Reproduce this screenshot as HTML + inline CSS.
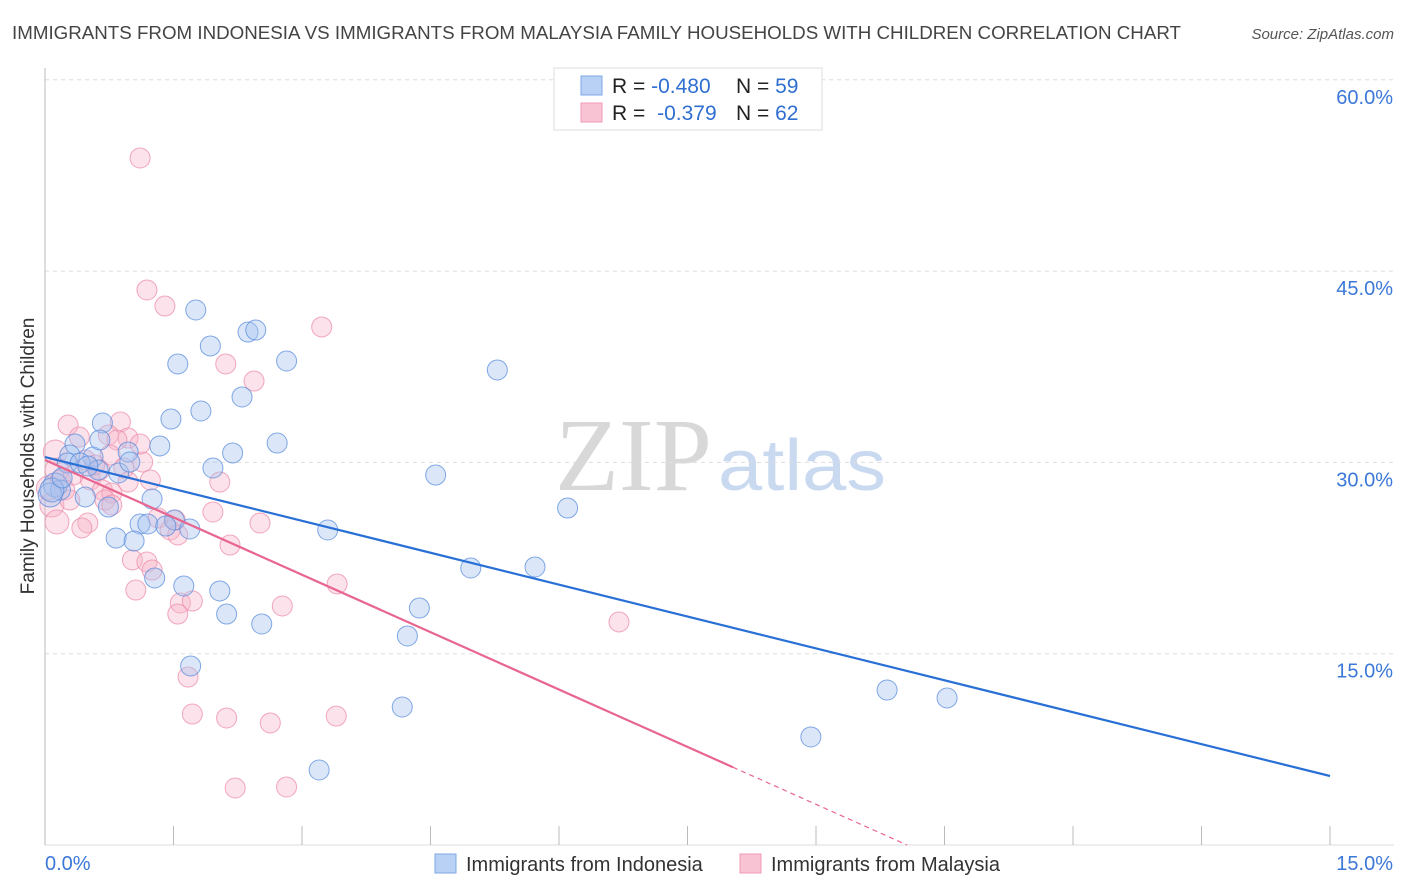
<!DOCTYPE html>
<html><head><meta charset="utf-8"><style>
body{margin:0;background:#fff;font-family:"Liberation Sans",sans-serif;}
svg{display:block}
</style></head><body>
<svg id="chart" width="1406" height="892">
<text x="12" y="39" font-size="18" fill="#444" textLength="1169" lengthAdjust="spacingAndGlyphs">IMMIGRANTS FROM INDONESIA VS IMMIGRANTS FROM MALAYSIA FAMILY HOUSEHOLDS WITH CHILDREN CORRELATION CHART</text>
<text x="1394" y="39" font-size="15" fill="#555" font-style="italic" text-anchor="end">Source: ZipAtlas.com</text>
<text x="712" y="490" font-size="104" fill="#d8d8d8" text-anchor="end" font-family="Liberation Serif,serif" textLength="157" lengthAdjust="spacingAndGlyphs">ZIP</text>
<text x="718" y="490" font-size="72" fill="#c9d9f0" textLength="168" lengthAdjust="spacingAndGlyphs">atlas</text>
<g id="grid"></g><g id="axes"></g><g id="pts"></g><g id="lines"></g>
<text x="34" y="456" font-size="19" fill="#333" text-anchor="middle" transform="rotate(-90 34 456)">Family Households with Children</text>
<rect x="554" y="68" width="268" height="62" fill="#fff" stroke="#ddd"/>
<rect x="581" y="76" width="21" height="19" fill="#b9d1f5" stroke="#7ea8e6"/>
<rect x="581" y="103" width="21" height="19" fill="#f8c4d4" stroke="#ef9ab5"/>
<text x="612" y="93" font-size="21" fill="#222">R = <tspan fill="#2f6fd1">-0.480</tspan></text>
<text x="736" y="93" font-size="21" fill="#222">N = <tspan fill="#2f6fd1">59</tspan></text>
<text x="612" y="120" font-size="21" fill="#222">R = <tspan fill="#2f6fd1" dx="6">-0.379</tspan></text>
<text x="736" y="120" font-size="21" fill="#222">N = <tspan fill="#2f6fd1">62</tspan></text>
<rect x="435" y="854" width="21" height="19" fill="#b9d1f5" stroke="#7ea8e6"/>
<text x="466" y="871" font-size="20" fill="#333">Immigrants from Indonesia</text>
<rect x="740" y="854" width="21" height="19" fill="#f8c4d4" stroke="#ef9ab5"/>
<text x="771" y="871" font-size="20" fill="#333">Immigrants from Malaysia</text>
</svg>
<script>
const yTicks=[15,30,45,60];
const yTickLabels=["15.0%","30.0%","45.0%","60.0%"];
const xTickLabels=["0.0%","15.0%"];
const blueX=[1.76,2.37,2.46,1.93,1.55,2.82,5.28,2.30,1.82,1.47,0.67,0.35,1.34,2.71,2.19,0.29,0.56,0.97,1.96,0.86,4.56,0.26,0.41,0.62,0.99,0.12,0.18,0.06,0.47,1.25,0.74,6.10,1.51,1.11,1.20,1.41,1.69,3.30,0.83,1.04,1.28,1.62,2.04,4.97,5.72,4.37,2.12,2.53,4.23,1.70,9.83,10.53,4.17,8.94,3.20,0.08,0.20,0.64,0.50];
const blueY=[41.95,40.22,40.38,39.13,37.72,37.95,37.25,35.13,34.03,33.40,33.09,31.44,31.29,31.52,30.74,30.58,30.42,30.82,29.56,29.17,29.01,29.95,29.95,29.40,30.03,28.23,27.84,27.44,27.29,27.13,26.50,26.42,25.48,25.17,25.17,25.01,24.78,24.70,24.07,23.84,20.94,20.31,19.92,21.72,21.80,18.58,18.11,17.33,16.39,14.04,12.15,11.53,10.82,8.47,5.88,27.84,28.78,31.76,29.72];
const pinkX=[1.11,1.19,1.40,3.23,2.11,2.44,0.27,0.88,0.40,0.74,0.97,0.84,0.47,1.14,0.64,0.14,0.53,0.18,0.33,2.04,0.67,0.97,0.78,0.08,0.70,1.96,2.51,0.14,0.50,0.43,1.32,1.46,1.55,2.16,1.02,1.19,1.25,3.41,1.06,1.58,1.72,2.77,1.55,6.70,1.67,1.72,2.12,2.63,3.40,2.22,2.82,0.58,0.23,0.04,0.76,0.92,1.23,0.29,0.78,1.52,0.12,1.11];
const pinkY=[53.87,43.52,42.26,40.62,37.72,36.38,32.93,33.17,31.99,32.15,31.91,31.76,30.19,30.03,29.40,29.40,28.62,28.62,29.01,28.46,27.84,28.46,27.60,26.66,27.05,26.11,25.25,25.33,25.25,24.86,25.64,24.70,24.31,23.52,22.35,22.19,21.56,20.47,19.99,18.98,19.13,18.74,18.11,17.49,13.17,10.27,9.96,9.57,10.11,4.47,4.55,29.80,27.84,27.99,30.58,29.56,28.62,27.05,26.66,25.48,30.82,31.44];
const blueFit=[30.42,5.41];
const pinkFit=[30.19,-3.0];
const pinkSolidEnd=8.03;
const NS="http://www.w3.org/2000/svg";
const X0=45,X1=1330,Y0=845;
function xs(v){return X0+(X1-X0)*v/15;}
function ys(v){return Y0-v*(191.3/15);}
function mk(t,a,p){const e=document.createElementNS(NS,t);for(const k in a)e.setAttribute(k,a[k]);document.getElementById(p).appendChild(e);return e;}
yTicks.forEach((t,i)=>{
 const g=mk('line',{x1:X0,x2:1394,y1:ys(t),y2:ys(t),stroke:'#ddd','stroke-dasharray':'4,4'},'grid');
 
 
 const l=mk('text',{x:1393,y:ys(t)+24,'font-size':20,fill:'#3b78d8','text-anchor':'end'},'axes');
 l.textContent=yTickLabels[i];
 
 
});
const ax=mk('line',{x1:X0,x2:X0,y1:68,y2:Y0,stroke:'#bbb'},'axes');


const bx=mk('line',{x1:X0,x2:1394,y1:Y0,y2:Y0,stroke:'#ddd'},'axes');


for(let i=0;i<=10;i++){
 const t=mk('line',{x1:xs(i*1.5),x2:xs(i*1.5),y1:826,y2:Y0,stroke:'#bbb'},'axes');
 
 
}
[[0,'start',45],[15,'end',1393]].forEach((d,i)=>{
 const l=mk('text',{x:d[2],y:870,'font-size':20,fill:'#3b78d8','text-anchor':d[1]},'axes');
 l.textContent=xTickLabels[i];
 
 
});
function dots(X,Y,fill,stroke,name){
 X.forEach((v,i)=>{
  const r=v<0.15?12:10;
  const c=mk('circle',{cx:xs(v),cy:ys(Y[i]),r:r,fill:fill,stroke:stroke,'stroke-width':1},'pts');
  
  
 });
}
dots(pinkX,pinkY,'rgba(248,180,200,0.38)','rgba(236,140,170,0.75)','malaysia-point');
dots(blueX,blueY,'rgba(164,196,240,0.4)','rgba(90,140,220,0.75)','indonesia-point');
const bl=mk('line',{x1:xs(0),y1:ys(blueFit[0]),x2:xs(15),y2:ys(blueFit[1]),stroke:'#2970d6','stroke-width':2.2},'lines');


const pEnd=pinkFit[0]+pinkFit[1]*pinkSolidEnd;
const pZero=-pinkFit[0]/pinkFit[1];
const pl=mk('line',{x1:xs(0),y1:ys(pinkFit[0]),x2:xs(pinkSolidEnd),y2:ys(pEnd),stroke:'#e8658f','stroke-width':2.2},'lines');


const pd=mk('line',{x1:xs(pinkSolidEnd),y1:ys(pEnd),x2:xs(pZero),y2:ys(0),stroke:'#e8658f','stroke-width':1.2,'stroke-dasharray':'5,4'},'lines');


</script>
</body></html>
